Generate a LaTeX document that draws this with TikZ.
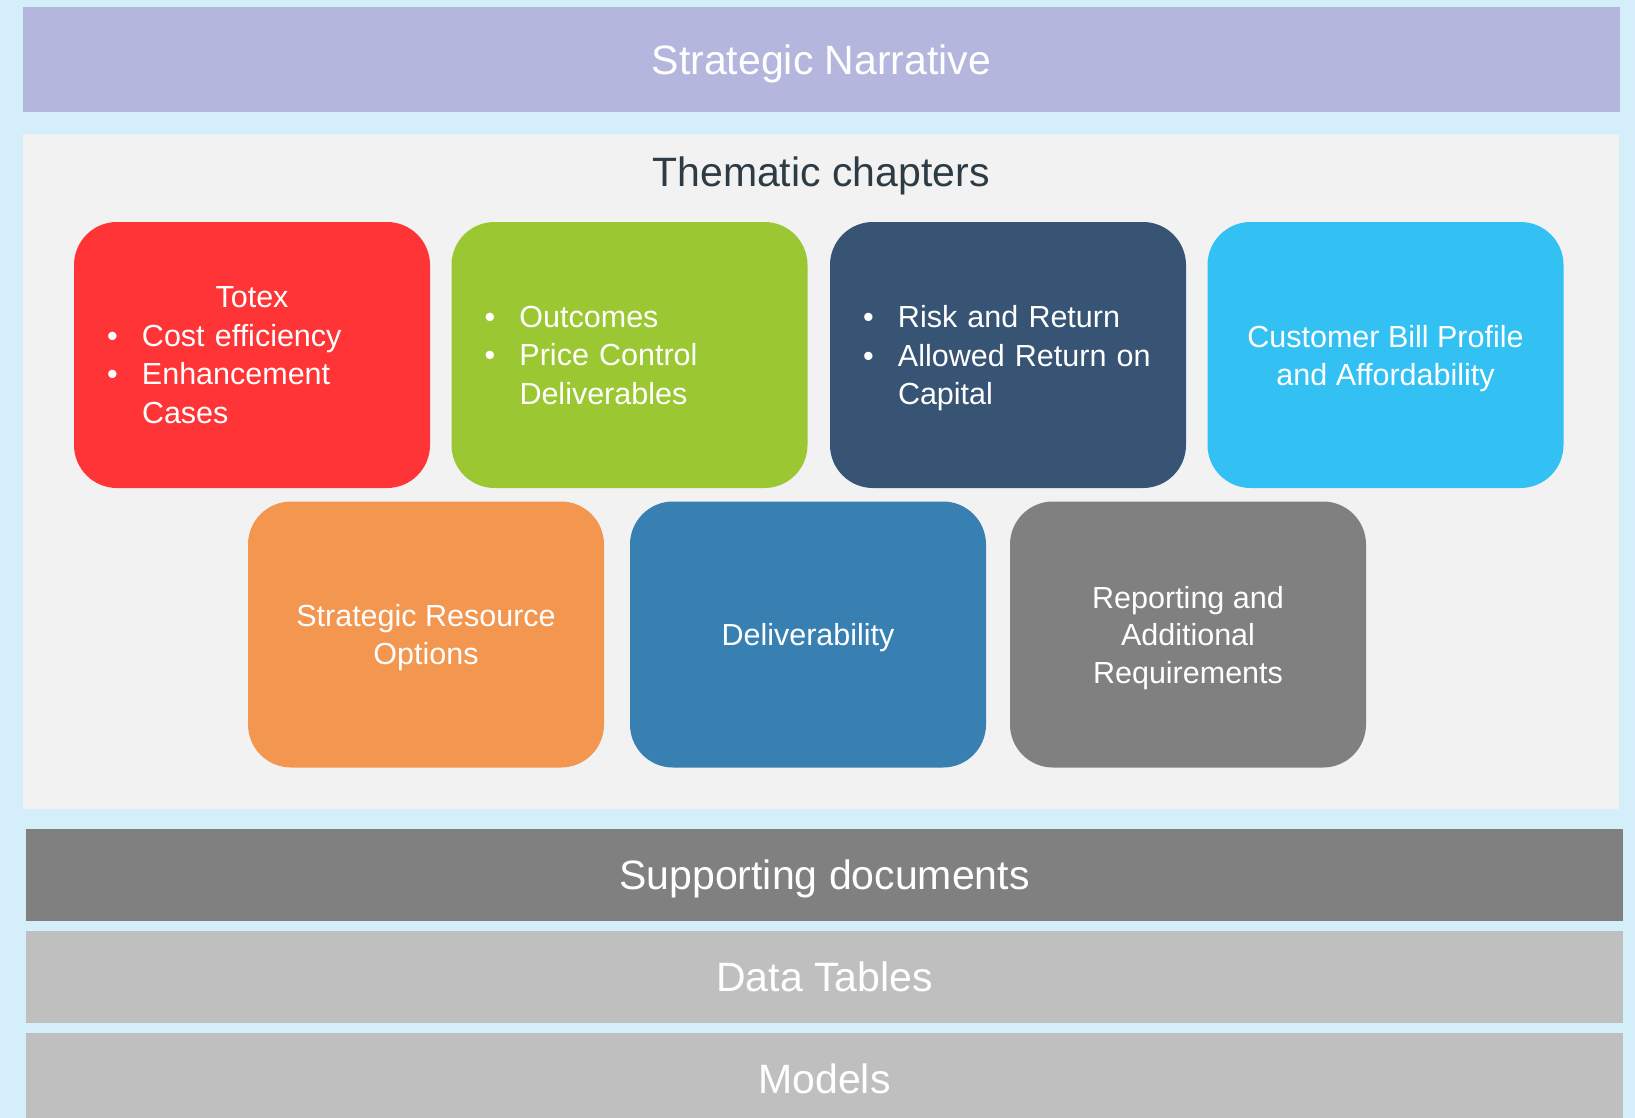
\documentclass[tikz,border=0pt]{standalone}
\usepackage{fontspec}
\setmainfont{Liberation Sans}
\setlength{\parindent}{0pt}
\definecolor{bgblue}{HTML}{D4EFFA}
\definecolor{lavender}{HTML}{B5B6DE}
\definecolor{panelgray}{HTML}{F2F2F2}
\definecolor{titleslate}{HTML}{2D3B45}
\definecolor{totexred}{HTML}{FF3436}
\definecolor{outgreen}{HTML}{9BC832}
\definecolor{risknavy}{HTML}{375475}
\definecolor{billcyan}{HTML}{33C1F3}
\definecolor{resorange}{HTML}{F29650}
\definecolor{delblue}{HTML}{3880B2}
\definecolor{repgray}{HTML}{808080}
\definecolor{datagray}{HTML}{BFBFBF}
\newcommand{\itemdot}{\makebox[35pt][l]{•}}
\newcommand{\itemgap}{\hspace*{35pt}}

\begin{document}
\begin{tikzpicture}[x=1pt,y=-1pt,
    band/.style={minimum width=1597pt,minimum height=92pt,inner sep=0pt,text=white,
      font=\fontsize{41}{49}\selectfont,text height=29.4pt,text depth=0pt},
    chapter/.style={rounded corners=43pt,minimum width=356pt,minimum height=266pt,
      inner sep=0pt,text=white},
    listbox/.style={chapter,text width=290pt,align=left,font=\fontsize{30.5}{38.5}\selectfont},
    textbox/.style={chapter,align=center,text depth=0pt,font=\fontsize{30.5}{37.5}\selectfont}]

  \path[fill=bgblue,use as bounding box] (0,0) rectangle (1635,1118);
  \node[band,fill=lavender,minimum height=105pt] (narrative) at (821.5,59.5) {Strategic Narrative};
  \node[fill=panelgray,minimum width=1596pt,minimum height=675pt,inner sep=0pt] (chapters) at (821,471.5) {};
  \node[anchor=base,text=titleslate,font=\fontsize{41}{49}\selectfont] (title) at (821,187) {Thematic chapters};

  % first row
  \node[listbox,fill=totexred] (totex) at (252,355)
    {\makebox[\hsize]{\fontsize{30.5}{38.5}\selectfont Totex}\\ \itemdot Cost efficiency\\ \itemdot Enhancement\\ \itemgap Cases};
  \node[listbox,fill=outgreen] (outcomes) at (629.5,355)
    {\itemdot Outcomes\\ \itemdot Price Control\\ \itemgap Deliverables};
  \node[listbox,fill=risknavy,text depth=77pt] (risk) at (1008,355)
    {\itemdot Risk and Return\\ \itemdot Allowed Return on\\ \itemgap Capital};
  \node[textbox,fill=billcyan,font=\fontsize{30.5}{38}\selectfont] (bill) at (1385.5,355)
    {Customer Bill Profile\\ and Affordability};

  % second row
  \node[textbox,fill=resorange] (resource) at (426,634.5) {Strategic Resource\\ Options};
  \node[textbox,fill=delblue] (deliver) at (808,634.5) {Deliverability};
  \node[textbox,fill=repgray] (reporting) at (1188,634.5) {Reporting and\\ Additional\\ Requirements};

  \node[band,fill=repgray] (supporting) at (824.5,875) {Supporting documents};
  \node[band,fill=datagray] (tables) at (824.5,977) {Data Tables};
  \node[band,fill=datagray] (models) at (824.5,1079) {Models};
\end{tikzpicture}
\end{document}
